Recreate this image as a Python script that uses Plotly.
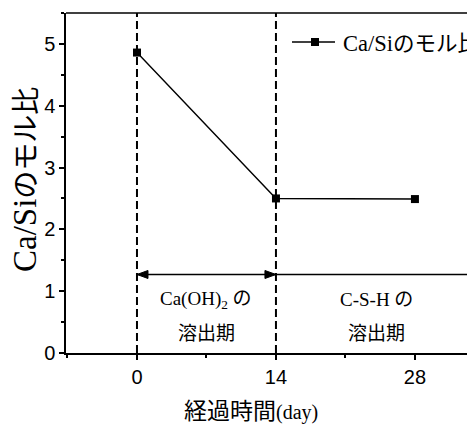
import plotly.graph_objects as go

days = [0, 14, 28]
ratio = [4.86, 2.50, 2.49]
series_name_latin = "Ca/Si"
series_name_jp = "のモル比"
x_title_jp = "経過時間"
x_title_latin = "(day)"
x_ticks = [0, 14, 28]
y_ticks = [0, 1, 2, 3, 4, 5]
phase_bounds = [0, 14]
arrow_level = 1.27
phase1_label = ["Ca(OH)<sub>2</sub> の", "溶出期"]
phase2_label = ["C-S-H の", "溶出期"]
phase_label_x = [7, 24.1]
phase_label_y = [0.86, 0.32]
x_range = [-7.15, 34.05]
y_range = [0, 5.5]

MIX = "Liberation Serif, Noto Sans CJK JP"
SANS = "Liberation Sans, Arial"

# page has an 8px body margin: figure pixel = page pixel - 8
W, H = 467, 418
L, T, B = 58, 5, 73
PW, PH = W - L, H - T - B  # 409 x 340


def px_x(page_x):
    return (page_x - 8 - L) / PW


def px_y(page_y):
    return (H - B - (page_y - 8)) / PH


def mixed(latin, jp, latin_size, jp_size):
    return (f'<span style="font-size:{latin_size}px">{latin}</span>'
            f'<span style="font-size:{jp_size}px">{jp}</span>')


fig = go.Figure()
fig.add_trace(go.Scatter(
    x=days, y=ratio, mode="lines+markers", name=series_name_latin + series_name_jp,
    line=dict(color="black", width=1.4),
    marker=dict(symbol="square", size=8, color="black"),
    showlegend=False,
))

days_per_px = (x_range[1] - x_range[0]) / PW
units_per_px = (y_range[1] - y_range[0]) / PH
head_len = 11 * days_per_px
head_half = 4 * units_per_px

shapes = []
for b in phase_bounds:
    shapes.append(dict(type="line", xref="x", yref="paper", x0=b, x1=b, y0=0, y1=1,
                       line=dict(color="black", width=2, dash="8px,4px")))
# top frame line
shapes.append(dict(type="line", xref="paper", yref="paper", x0=0, x1=1, y0=1, y1=1,
                   line=dict(color="black", width=1.5)))
# double arrow of phase 1
shapes.append(dict(type="line", xref="x", yref="y", x0=phase_bounds[0], x1=phase_bounds[1],
                   y0=arrow_level, y1=arrow_level, line=dict(color="black", width=1.5)))
a0, a1 = phase_bounds
shapes.append(dict(type="path", xref="x", yref="y",
                   path=f"M{a0},{arrow_level} L{a0 + head_len},{arrow_level + head_half} "
                        f"L{a0 + head_len},{arrow_level - head_half} Z",
                   fillcolor="black", line=dict(color="black", width=1)))
shapes.append(dict(type="path", xref="x", yref="y",
                   path=f"M{a1},{arrow_level} L{a1 - head_len},{arrow_level + head_half} "
                        f"L{a1 - head_len},{arrow_level - head_half} Z",
                   fillcolor="black", line=dict(color="black", width=1)))
# phase 2 line to the right edge
shapes.append(dict(type="line", xref="x", yref="y", x0=phase_bounds[1], x1=x_range[1],
                   y0=arrow_level, y1=arrow_level, line=dict(color="black", width=1.5)))
shapes.append(dict(type="line", xref="x", yref="y",
                   x0=x_range[1] - 1.5 * days_per_px, x1=x_range[1] - 1.5 * days_per_px,
                   y0=arrow_level - 5.5 * units_per_px, y1=arrow_level + 5.5 * units_per_px,
                   line=dict(color="black", width=1.5)))
# legend sample
shapes.append(dict(type="line", xref="paper", yref="paper",
                   x0=px_x(292), x1=px_x(335), y0=px_y(42), y1=px_y(42),
                   line=dict(color="black", width=1.4)))
shapes.append(dict(type="rect", xref="paper", yref="paper",
                   x0=px_x(311), x1=px_x(319), y0=px_y(46), y1=px_y(38),
                   fillcolor="black", line=dict(width=0)))

lab_font = dict(family=MIX, size=19, color="black")
annotations = [
    dict(x=phase_label_x[0], y=phase_label_y[0], xref="x", yref="y", text=phase1_label[0],
         showarrow=False, font=lab_font),
    dict(x=phase_label_x[0], y=phase_label_y[1], xref="x", yref="y", text=phase1_label[1],
         showarrow=False, font=lab_font),
    dict(x=phase_label_x[1], y=phase_label_y[0], xref="x", yref="y", text=phase2_label[0],
         showarrow=False, font=lab_font),
    dict(x=phase_label_x[1], y=phase_label_y[1], xref="x", yref="y", text=phase2_label[1],
         showarrow=False, font=lab_font),
    # legend text
    dict(x=px_x(341), y=px_y(43), xref="paper", yref="paper",
         xanchor="left", yanchor="middle",
         text=mixed(series_name_latin, series_name_jp, 22.5, 21.5), showarrow=False,
         font=dict(family=MIX, size=21.5, color="black")),
    # x title
    dict(x=px_x(251), y=px_y(411), xref="paper", yref="paper",
         xanchor="center", yanchor="middle",
         text=f'<span style="font-size:23px">{x_title_jp}</span>'
              f'<span style="font-size:20px">{x_title_latin}</span>',
         showarrow=False, font=dict(family=MIX, size=23, color="black")),
    # y title
    dict(x=px_x(25), y=px_y(180), xref="paper", yref="paper", textangle=-90,
         xanchor="center", yanchor="middle",
         text=mixed(series_name_latin, series_name_jp, 33, 28), showarrow=False,
         font=dict(family=MIX, size=28, color="black")),
]

fig.update_layout(
    width=W, height=H,
    margin=dict(l=L, r=0, t=T, b=B, pad=0),
    plot_bgcolor="white", paper_bgcolor="white",
    shapes=shapes, annotations=annotations,
    showlegend=False,
    xaxis=dict(range=x_range, tickvals=x_ticks, showgrid=False, zeroline=False,
               showline=True, linecolor="black", linewidth=1.5,
               ticks="outside", ticklen=5, tickwidth=1.5, tickcolor="black",
               minor=dict(dtick=7, tick0=0, ticks="outside", ticklen=3, tickwidth=1.5, tickcolor="black"),
               tickfont=dict(family=SANS, size=20, color="black")),
    yaxis=dict(range=y_range, tickvals=y_ticks, showgrid=False, zeroline=False,
               showline=True, linecolor="black", linewidth=1.5,
               ticks="outside", ticklen=5, tickwidth=1.5, tickcolor="black",
               minor=dict(dtick=0.5, tick0=0, ticks="outside", ticklen=3, tickwidth=1.5, tickcolor="black"),
               tickfont=dict(family=SANS, size=20, color="black")),
)

fig.write_html("out.html")
